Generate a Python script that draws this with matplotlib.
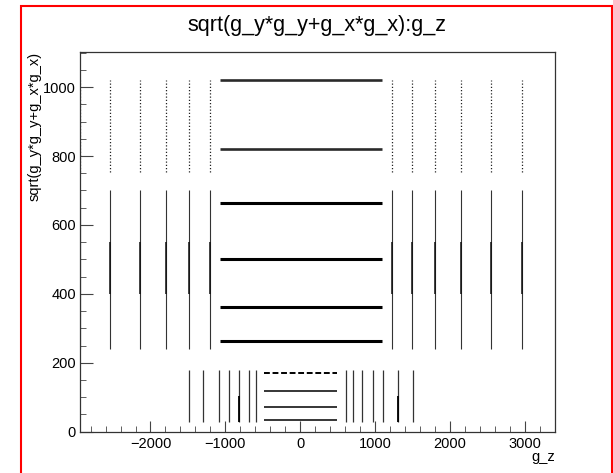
import matplotlib
matplotlib.use('Agg')
import matplotlib.pyplot as plt
from matplotlib.patches import Rectangle

plt.rcParams['font.family'] = ['Liberation Sans', 'DejaVu Sans']

# outer columns (g_z positions), seen at high radius
upper_x = [-2948, -2545, -2143, -1790, -1488, -1210, 1222, 1499, 1802, 2152, 2554, 2956]
upper_solid = (241, 702)
upper_dense = (400, 550)
upper_dotted = (755, 1020)

# central bands (constant radius over a g_z range)
band_x = (-1075, 1092)
band_y = [1022, 821, 664, 501, 361, 263]

# inner columns at low radius
lower_x = [-1485, -1294, -1085, -951, -814, -688, -590, 608, 709, 829, 968, 1110, 1306, 1502]
lower_y = (29, 179)
lower_dense_x = [-814, 1306]
lower_dense_y = (29, 105)

# inner bands
low_band_x = (-480, 491)
low_band_y = [171, 118, 73, 34]

fig = plt.figure(figsize=(6.13, 4.73), dpi=100)
ax = fig.add_axes([0.1297, 0.0873, 0.9054 - 0.1297, 0.8894 - 0.0873])

ax.vlines(upper_x, upper_solid[0], upper_solid[1], color='#333333', lw=0.8)
ax.vlines(upper_x, upper_dense[0], upper_dense[1], color='#111111', lw=1.1)
ax.vlines(upper_x, upper_dotted[0], upper_dotted[1], color='#222222', lw=0.9,
          linestyles=[(0, (1, 1.6))])

for i, y in enumerate(band_y):
    if i < 2:
        ax.hlines(y, band_x[0], band_x[1], color='#2a2a2a', lw=1.9)
    else:
        ax.hlines(y, band_x[0], band_x[1], color='black', lw=2.2)

ax.vlines(lower_x, lower_y[0], lower_y[1], color='#333333', lw=0.9)
ax.vlines(lower_dense_x, lower_dense_y[0], lower_dense_y[1], color='black', lw=1.3)

for i, y in enumerate(low_band_y):
    if i == 0:
        ax.hlines(y, low_band_x[0], low_band_x[1], color='black', lw=1.4,
                  linestyles=[(0, (3, 1.4))])
    else:
        ax.hlines(y, low_band_x[0], low_band_x[1], color='black', lw=1.1)

ax.set_xlim(-2948, 3403)
ax.set_ylim(0, 1101)
ax.set_xticks([-2000, -1000, 0, 1000, 2000, 3000])
ax.set_xticks(range(-2800, 3401, 200), minor=True)
ax.set_yticks([0, 200, 400, 600, 800, 1000])
ax.set_yticks(range(0, 1101, 50), minor=True)
ax.set_xticklabels(['\u22122000', '\u22121000', '0', '1000', '2000', '3000'])

ax.tick_params(which='both', direction='in', top=False, right=False,
               color='#444444', labelsize=10.5)
ax.tick_params(axis='x', which='major', length=8, pad=3.5)
ax.tick_params(axis='x', which='minor', length=4)
ax.tick_params(axis='y', which='major', length=9, pad=2.5)
ax.tick_params(axis='y', which='minor', length=4.5)
for s in ax.spines.values():
    s.set_color('#333333')
    s.set_linewidth(0.9)

ax.text(1.0, -0.0667, 'g_z', transform=ax.transAxes, ha='right', va='center',
        fontsize=10.5)
ax.text(-0.0936, 1.0, 'sqrt(g_y*g_y+g_x*g_x)', transform=ax.transAxes,
        rotation=90, ha='center', va='top', fontsize=10.5)

fig.text(0.5166, 0.947, 'sqrt(g_y*g_y+g_x*g_x):g_z', ha='center', va='center',
         fontsize=15.5)

fig.patches.append(Rectangle((0.0338, -0.01), 0.9979 - 0.0338, 0.9873 + 0.01,
                             transform=fig.transFigure, fill=False,
                             edgecolor='red', lw=1.5))

fig.savefig('out.png', dpi=100)
